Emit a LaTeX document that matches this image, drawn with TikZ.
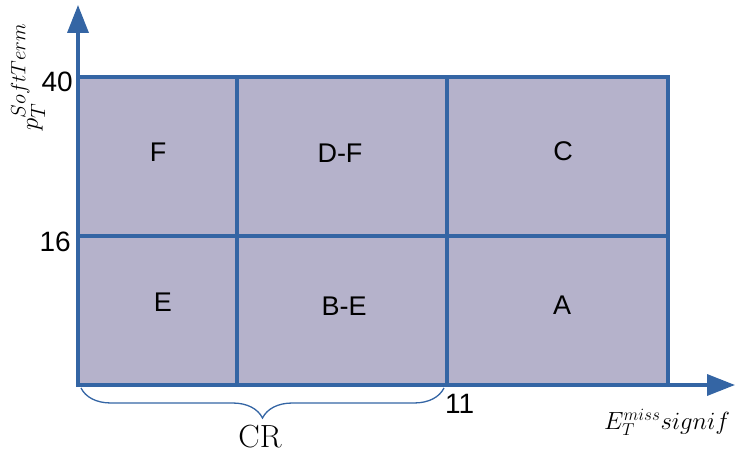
\documentclass[tikz,border=0pt]{standalone}
\usepackage{fontspec}
\newfontfamily\lsans{Liberation Sans}
\usetikzlibrary{arrows.meta,decorations.pathreplacing}
\definecolor{axblue}{RGB}{52,101,164}
\definecolor{cellfill}{RGB}{181,178,203}
\tikzset{
  cell/.style={draw=axblue,line width=3.5bp,fill=cellfill},
  axis/.style={draw=axblue,line width=3.5bp,-{Triangle[length=28bp,width=21bp]}},
  region/.style={font=\lsans\fontsize{27bp}{27bp}\selectfont,inner sep=0pt,anchor=center},
  tick/.style={font=\lsans\fontsize{28bp}{28bp}\selectfont,inner sep=0pt},
  crbrace/.style={draw=axblue,line width=1.3bp,decorate,decoration={brace,mirror,amplitude=30bp}}
}
\begin{document}
\begin{tikzpicture}[x=1bp,y=-1bp]
\useasboundingbox (0,0) rectangle (735,456);
% cells
\draw[cell] (78,77) rectangle (237,236);
\draw[cell] (237,77) rectangle (447,236);
\draw[cell] (447,77) rectangle (668,236);
\draw[cell] (78,236) rectangle (237,385);
\draw[cell] (237,236) rectangle (447,385);
\draw[cell] (447,236) rectangle (668,385);
% axes
\coordinate (o) at (78,385);
\coordinate (ytip) at (78,5);
\coordinate (xtip) at (735,385);
\draw[axis] (o) -- (ytip);
\draw[axis] (o) -- (xtip);
% region labels
\node[region] (F) at (158,152) {F};
\node[region] (DF) at (340,153) {D-F};
\node[region] (C) at (563,151) {C};
\node[region] (E) at (163,302) {E};
\node[region] (BE) at (344,306) {B-E};
\node[region] (A) at (562,305) {A};
% ticks
\node[tick,anchor=east] (t40) at (73,82) {40};
\node[tick,anchor=east] (t16) at (71,242) {16};
\node[tick,anchor=west] (t11) at (445,404) {11};
% axis labels
\node[rotate=90,inner sep=0pt,font=\fontsize{31bp}{31bp}\selectfont] (ylab) at (28,77) {$p_T^{SoftTerm}$};
\node[inner sep=0pt,anchor=west,font=\fontsize{26bp}{26bp}\selectfont] (xlab) at (604,422) {$E_T^{miss}signif$};
% brace
\coordinate (b1) at (81,388);
\coordinate (b2) at (444,388);
\draw[crbrace] (b1) -- (b2);
\node[inner sep=0pt,font=\fontsize{32bp}{32bp}\selectfont] (cr) at (260,437) {CR};
\end{tikzpicture}
\end{document}
